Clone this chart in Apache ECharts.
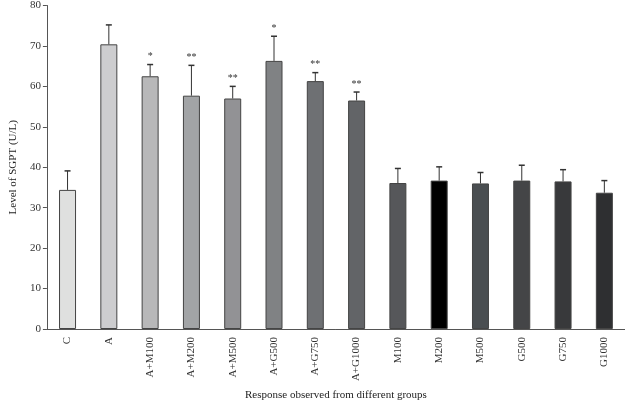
<!DOCTYPE html>
<html>
<head>
<meta charset="utf-8">
<script src="https://cdn.jsdelivr.net/npm/echarts@6/dist/echarts.min.js"></script>
<style>
  html, body { margin: 0; padding: 0; background: #fff; }
  #chart { width: 625px; height: 406px; }
</style>
</head>
<body>
<div id="chart"></div>
<script>
// groups on x axis
var groups = ['C', 'A', 'A+M100', 'A+M200', 'A+M500', 'A+G500', 'A+G750', 'A+G1000',
  'M100', 'M200', 'M500', 'G500', 'G750', 'G1000'];
// mean SGPT level (U/L)
var means = [34.4, 70.4, 62.5, 57.7, 57.0, 66.3, 61.3, 56.5, 36.1, 36.7, 36.0, 36.7, 36.5, 33.7];
// upper error (SD)
var errors = [4.7, 4.8, 2.9, 7.5, 3.0, 6.1, 2.1, 2.1, 3.6, 3.4, 2.7, 3.8, 2.9, 3.0];
// significance marks
var marks = ['', '', '*', '**', '**', '*', '**', '**', '', '', '', '', '', ''];
var barColors = ['#dfe0df', '#cdcdcf', '#b8b8b9', '#a2a4a6', '#929295', '#808284', '#6e7073', '#626467',
  '#56575a', '#000000', '#4a4e51', '#444547', '#38393b', '#2e2f31'];

var font = 'Liberation Serif';
var myChart = echarts.init(document.getElementById('chart'));

var option = {
  animation: false,
  textStyle: { fontFamily: font },
  grid: { left: 37, right: 0, top: 4, bottom: 66 },
  xAxis: {
    type: 'category',
    data: groups,
    name: 'Response observed from different groups',
    nameLocation: 'middle',
    nameGap: 61,
    nameTextStyle: { fontFamily: font, fontSize: 11, color: '#222' },
    axisLine: { lineStyle: { color: '#555', width: 1 } },
    axisTick: { show: false },
    axisLabel: { rotate: 90, fontFamily: font, fontSize: 11, color: '#333', margin: 8 }
  },
  yAxis: {
    type: 'value',
    min: 0,
    max: 80,
    interval: 10,
    name: 'Level of SGPT (U/L)',
    nameLocation: 'middle',
    nameGap: 26,
    nameTextStyle: { fontFamily: font, fontSize: 11, color: '#222' },
    axisLine: { show: true, lineStyle: { color: '#555', width: 1 } },
    axisTick: { show: true, length: 4, lineStyle: { color: '#555' } },
    axisLabel: { fontFamily: font, fontSize: 11, color: '#333', margin: 6 },
    splitLine: { show: false }
  },
  series: [
    {
      type: 'bar',
      barWidth: 17,
      data: means.map(function (v, i) {
        return { value: v, itemStyle: { color: barColors[i] } };
      }),
      itemStyle: { borderColor: '#444', borderWidth: 1 }
    },
    {
      type: 'custom',
      data: means.map(function (v, i) { return [i, v, v + errors[i]]; }),
      renderItem: function (params, api) {
        var low = api.coord([api.value(0), api.value(1)]);
        var high = api.coord([api.value(0), api.value(2)]);
        var cap = 3;
        var children = [
          { type: 'line', shape: { x1: low[0], y1: low[1], x2: high[0], y2: high[1] },
            style: { stroke: '#333', lineWidth: 1 } },
          { type: 'line', shape: { x1: high[0] - cap, y1: high[1], x2: high[0] + cap, y2: high[1] },
            style: { stroke: '#333', lineWidth: 1.5 } }
        ];
        var m = marks[params.dataIndex];
        if (m) {
          children.push({
            type: 'text',
            style: {
              text: m, x: high[0], y: high[1] - 3,
              textAlign: 'center', textVerticalAlign: 'bottom',
              fontFamily: font, fontSize: 10, fill: '#333'
            }
          });
        }
        return { type: 'group', children: children };
      },
      z: 3
    }
  ]
};
myChart.setOption(option);
</script>
</body>
</html>
